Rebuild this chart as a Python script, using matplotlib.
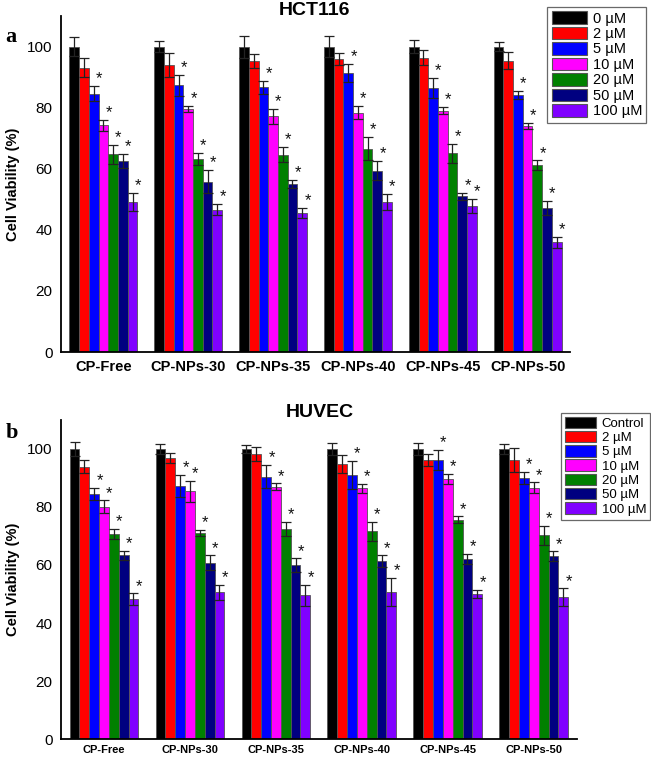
import matplotlib
matplotlib.use("Agg")
import matplotlib.pyplot as plt
import numpy as np
from matplotlib.patches import Patch

plt.rcParams['font.family'] = ['Liberation Sans', 'DejaVu Sans']

groups = ["CP-Free", "CP-NPs-30", "CP-NPs-35", "CP-NPs-40", "CP-NPs-45", "CP-NPs-50"]
labels_a = ["0 µM", "2 µM", "5 µM", "10 µM", "20 µM", "50 µM", "100 µM"]
labels_b = ["Control", "2 µM", "5 µM", "10 µM", "20 µM", "50 µM", "100 µM"]
colors = ["#000000", "#ff0000", "#0000ff", "#ff00ff", "#008000", "#000080", "#8000ff"]

# HCT116: rows = concentration, cols = groups
hct_vals = [
    [100, 100, 100, 100, 100, 100],
    [93.1, 94.0, 95.2, 95.9, 96.4, 95.3],
    [84.6, 87.3, 86.6, 91.3, 86.4, 84.1],
    [74.2, 79.5, 77.1, 78.4, 79.0, 74.0],
    [64.7, 63.1, 64.6, 66.5, 65.0, 61.1],
    [62.4, 55.8, 55.0, 59.3, 51.0, 47.1],
    [49.1, 46.6, 45.5, 49.1, 47.9, 36.0],
]
hct_err = [
    [3.0, 1.9, 3.6, 3.3, 2.2, 1.4],
    [3.0, 4.0, 2.2, 1.9, 2.5, 2.8],
    [2.4, 3.5, 2.1, 2.9, 3.3, 1.2],
    [1.8, 1.0, 2.4, 2.2, 1.2, 0.9],
    [3.0, 2.0, 2.5, 3.8, 3.2, 1.6],
    [2.3, 3.7, 1.3, 3.1, 1.2, 2.3],
    [3.0, 1.8, 1.6, 2.6, 2.3, 1.8],
]
huv_vals = [
    [100, 100, 100, 100, 100, 100],
    [93.9, 96.9, 98.2, 94.8, 96.2, 96.2],
    [84.5, 87.2, 90.5, 91.1, 96.2, 90.1],
    [80.1, 85.4, 87.0, 86.4, 89.7, 86.7],
    [70.7, 71.0, 72.4, 71.6, 75.6, 70.3],
    [63.3, 60.8, 60.0, 61.4, 62.1, 63.1],
    [48.3, 50.6, 49.5, 50.6, 50.0, 49.0],
]
huv_err = [
    [2.4, 1.7, 1.3, 2.0, 2.0, 1.7],
    [2.3, 1.7, 2.5, 3.0, 2.0, 4.1],
    [2.2, 3.9, 4.1, 4.8, 3.6, 2.1],
    [2.2, 3.6, 1.2, 1.5, 1.7, 1.8],
    [1.7, 1.1, 2.4, 3.2, 1.2, 3.3],
    [1.6, 2.6, 2.3, 2.0, 1.8, 1.6],
    [2.0, 2.5, 3.6, 4.9, 1.5, 3.0],
]
star_from = 2  # stars on 5 µM and above

fig = plt.figure(figsize=(6.51, 7.60), dpi=100)

def panel(rect, vals, errs, legend_labels, xtick_fs, xpad, leg_fs, leg_bbox):
    ax = fig.add_axes(rect)
    n = len(vals)
    w = 0.8 / n
    x = np.arange(len(groups))
    for i in range(n):
        pos = x - 0.4 + w * (i + 0.5)
        ax.bar(pos, vals[i], width=w, color=colors[i], edgecolor="#555555",
               linewidth=0.6, yerr=errs[i], capsize=3.5,
               error_kw=dict(ecolor="#222222", elinewidth=0.9, capthick=0.9), zorder=2)
        if i >= star_from:
            for p, v, e in zip(pos, vals[i], errs[i]):
                ax.text(p + w * 0.55, v + e + 2.4, "*", ha="center", va="center",
                        fontsize=12, color="#111111")
    ax.set_xlim(-0.5, 5.5)
    ax.set_ylim(0, 110)
    ax.set_yticks([0, 20, 40, 60, 80, 100])
    ax.tick_params(axis='both', length=0)
    ax.tick_params(axis='y', labelsize=11, pad=6)
    ax.set_xticks(x)
    ax.set_xticklabels(groups, fontweight='bold', fontsize=xtick_fs)
    ax.tick_params(axis='x', pad=xpad)
    for s in ["top", "right"]:
        ax.spines[s].set_visible(False)
    ax.spines["left"].set_linewidth(1.3)
    ax.spines["bottom"].set_linewidth(1.3)
    ax.set_ylabel("Cell Viability (%)", fontweight='bold', fontsize=10.5, labelpad=5)
    handles = [Patch(facecolor=c, edgecolor="#555555", linewidth=0.8) for c in colors]
    leg = fig.legend(handles, legend_labels, loc="upper right", bbox_to_anchor=leg_bbox,
                     fontsize=leg_fs, frameon=True, fancybox=False, edgecolor="#444444",
                     handlelength=2.4, handleheight=0.95, handletextpad=0.4,
                     labelspacing=0.08, borderpad=0.3, borderaxespad=0)
    leg.get_frame().set_linewidth(0.9)
    return ax

axa = panel([0.0937, 0.5368, 0.7819, 0.4422], hct_vals, hct_err, labels_a,
            10.5, 6, 10.5, (0.993, 0.991))
axb = panel([0.0937, 0.0276, 0.7923, 0.4198], huv_vals, huv_err, labels_b,
            8, 4, 9.5, (0.999, 0.457))

fig.text(0.483, 0.986, "HCT116", ha="center", va="center", fontweight="bold", fontsize=14)
fig.text(0.492, 0.457, "HUVEC", ha="center", va="center", fontweight="bold", fontsize=14)
fig.text(0.008, 0.951, "a", ha="left", va="center", fontweight="bold", fontsize=16,
         family=["Liberation Serif", "DejaVu Serif"])
fig.text(0.008, 0.430, "b", ha="left", va="center", fontweight="bold", fontsize=16,
         family=["Liberation Serif", "DejaVu Serif"])

fig.savefig("out.png", dpi=100)
